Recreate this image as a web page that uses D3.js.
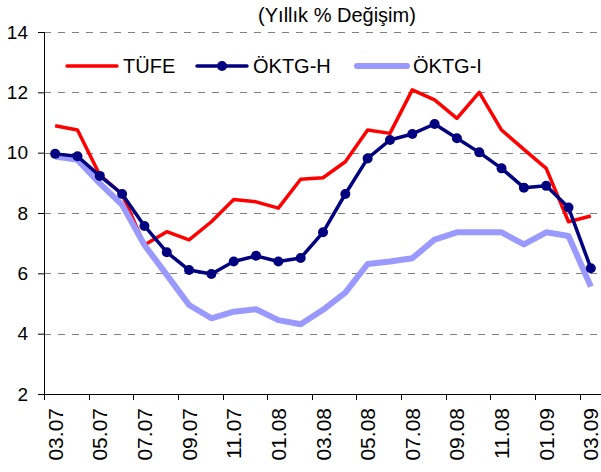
<!DOCTYPE html>
<html>
<head>
<meta charset="utf-8">
<script src="https://cdn.jsdelivr.net/npm/d3@7"></script>
<style>
  body { margin: 0; background: #fff; }
  text { font-family: "Liberation Sans", Arial, sans-serif; fill: #000; }
</style>
</head>
<body>
<svg class="chart" width="601" height="472"></svg>
<script>
var months = ["03.07","04.07","05.07","06.07","07.07","08.07","09.07","10.07","11.07","12.07",
              "01.08","02.08","03.08","04.08","05.08","06.08","07.08","08.08","09.08","10.08","11.08","12.08",
              "01.09","02.09","03.09"];
var tickLabels = ["03.07","05.07","07.07","09.07","11.07","01.08","03.08","05.08","07.08","09.08","11.08","01.09","03.09"];
var yTicks = [2, 4, 6, 8, 10, 12, 14];

var tufe  = [10.89,10.75,9.26,8.63,6.94,7.38,7.11,7.71,8.45,8.37,8.16,9.12,9.17,9.70,10.75,10.64,12.08,11.75,11.14,12.00,10.75,10.11,9.48,7.71,7.90];
var oktgH = [9.96,9.88,9.23,8.63,7.57,6.70,6.11,5.98,6.39,6.58,6.39,6.51,7.36,8.63,9.81,10.42,10.62,10.95,10.48,10.01,9.48,8.84,8.90,8.18,6.17];
var oktgI = [9.87,9.76,8.98,8.27,6.94,5.95,4.95,4.51,4.73,4.81,4.45,4.31,4.79,5.36,6.31,6.39,6.50,7.12,7.36,7.36,7.36,6.96,7.36,7.24,5.56];

var svg = d3.select(".chart");
var pLeft = 44, pRight = 602, pTop = 32, pBottom = 394;

var x = d3.scaleBand().domain(months).range([pLeft, pRight]).padding(0);
var y = d3.scaleLinear().domain([2, 14]).range([pBottom, pTop]);

// title
svg.append("text")
    .attr("x", 337).attr("y", 22)
    .attr("text-anchor", "middle")
    .style("font-size", "20px")
    .text("(Yıllık % Değişim)");

// grid
svg.append("g").selectAll("line")
    .data(yTicks.slice(1))
    .enter().append("line")
    .attr("x1", pLeft).attr("x2", 601)
    .attr("y1", function(d) { return Math.round(y(d)) + 0.5; })
    .attr("y2", function(d) { return Math.round(y(d)) + 0.5; })
    .attr("stroke", "#808080")
    .attr("stroke-width", 1)
    .attr("stroke-dasharray", "7,7");

// y axis
var yAxis = svg.append("g")
    .attr("transform", "translate(" + pLeft + ",0)")
    .call(d3.axisLeft(y).tickValues(yTicks).tickSize(6).tickPadding(10).tickFormat(d3.format("d")));
yAxis.selectAll("text").style("font-size", "19px").attr("fill", "#000");
yAxis.selectAll("line, path").attr("stroke", "#000");

// x axis (labels centred on months, ticks on boundaries)
var xAxis = svg.append("g")
    .attr("transform", "translate(0," + pBottom + ")")
    .call(d3.axisBottom(x).tickValues(tickLabels).tickSize(0).tickPadding(0));
xAxis.select("path").attr("stroke", "#000").attr("d", "M" + pLeft + ",0.5H601");
xAxis.selectAll("text")
    .style("font-size", "21px")
    .attr("fill", "#000")
    .attr("text-anchor", "end")
    .attr("transform", "translate(0,14) rotate(-90)")
    .attr("x", 0).attr("y", 0)
    .attr("dy", "0.36em");
svg.append("g").selectAll("line")
    .data(tickLabels)
    .enter().append("line")
    .attr("x1", function(d) { return Math.round(x(d)) + 0.5; })
    .attr("x2", function(d) { return Math.round(x(d)) + 0.5; })
    .attr("y1", pBottom).attr("y2", pBottom + 6)
    .attr("stroke", "#000");

var line = d3.line()
    .x(function(d, i) { return x(months[i]) + x.bandwidth() / 2; })
    .y(function(d) { return y(d); });

svg.append("path").datum(tufe)
    .attr("d", line).attr("fill", "none")
    .attr("stroke", "#ff0000").attr("stroke-width", 3.5).attr("stroke-linejoin", "round");

svg.append("path").datum(oktgI)
    .attr("d", line).attr("fill", "none")
    .attr("stroke", "#9999ff").attr("stroke-width", 6).attr("stroke-linejoin", "round");

svg.append("path").datum(oktgH)
    .attr("d", line).attr("fill", "none")
    .attr("stroke", "#000080").attr("stroke-width", 3.5).attr("stroke-linejoin", "round");

svg.append("g").selectAll("circle")
    .data(oktgH)
    .enter().append("circle")
    .attr("cx", function(d, i) { return x(months[i]) + x.bandwidth() / 2; })
    .attr("cy", function(d) { return y(d); })
    .attr("r", 5)
    .attr("fill", "#000080");

// legend
var legend = [
    {name: "TÜFE", color: "#ff0000", width: 3.5, x: 67, dot: false},
    {name: "ÖKTG-H", color: "#000080", width: 3.5, x: 197, dot: true},
    {name: "ÖKTG-I", color: "#9999ff", width: 6, x: 357, dot: false}
];
var lg = svg.append("g").selectAll("g").data(legend).enter().append("g");
lg.append("line")
    .attr("x1", function(d) { return d.x; })
    .attr("x2", function(d) { return d.x + 50; })
    .attr("y1", 66).attr("y2", 66)
    .attr("stroke", function(d) { return d.color; })
    .attr("stroke-width", function(d) { return d.width; })
    .attr("stroke-linecap", "round");
lg.filter(function(d) { return d.dot; }).append("circle")
    .attr("cx", function(d) { return d.x + 25; })
    .attr("cy", 66).attr("r", 5)
    .attr("fill", function(d) { return d.color; });
lg.append("text")
    .attr("x", function(d) { return d.x + 56; })
    .attr("y", 73)
    .style("font-size", "20px")
    .text(function(d) { return d.name; });
</script>
</body>
</html>
